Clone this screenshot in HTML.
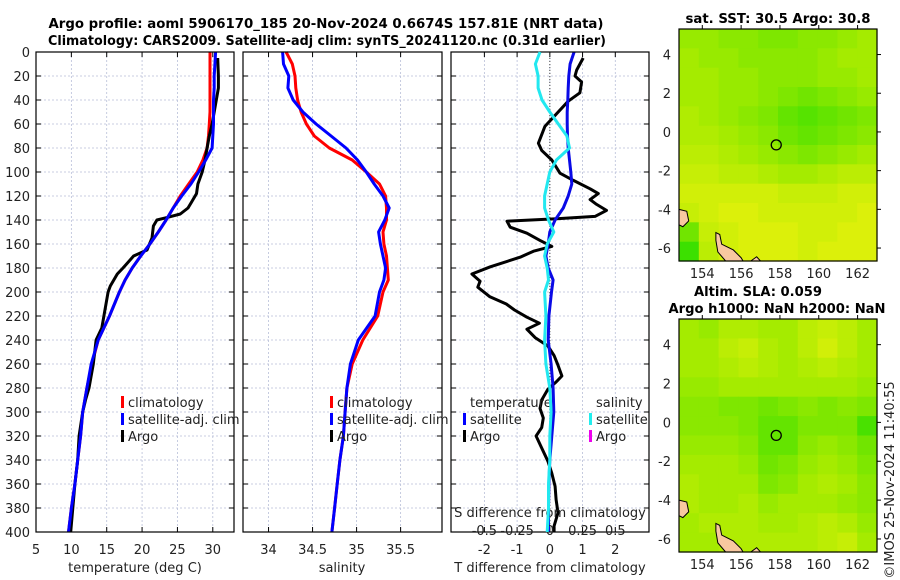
<!DOCTYPE html>
<html><head><meta charset="utf-8"><style>
html,body{margin:0;padding:0;background:#fff;}
svg{display:block;font-family:"DejaVu Sans","Liberation Sans",sans-serif;}
</style></head><body>
<svg id="c" width="900" height="580" viewBox="0 0 900 580" xmlns="http://www.w3.org/2000/svg">
<rect width="900" height="580" fill="#fff"/>
<g font-weight="bold" font-size="13" text-anchor="middle" fill="#000">
<text x="326" y="28" textLength="555" lengthAdjust="spacingAndGlyphs">Argo profile: aoml 5906170_185 20-Nov-2024 0.6674S 157.81E (NRT data)</text>
<text x="327" y="45" textLength="558" lengthAdjust="spacingAndGlyphs">Climatology: CARS2009. Satellite-adj clim: synTS_20241120.nc (0.31d earlier)</text>
<text x="778" y="23" textLength="185" lengthAdjust="spacingAndGlyphs">sat. SST: 30.5 Argo: 30.8</text>
<text x="758" y="296" textLength="128" lengthAdjust="spacingAndGlyphs">Altim. SLA: 0.059</text>
<text x="777" y="313" textLength="217" lengthAdjust="spacingAndGlyphs">Argo h1000: NaN h2000: NaN</text>
</g>
<text transform="translate(894,480) rotate(-90)" text-anchor="middle" font-size="13" fill="#222">©IMOS 25-Nov-2024 11:40:55</text>
<g id="plots"></g>
</svg>
<script>
// ---- data ----
const depthT = [0,10,20,30,40,50,60,70,80,90,100,110,120,130,140,150,160,170,180,190,200,220,240,260,280,300,320,340,360,380,400];
const tempClim = [29.6,29.6,29.6,29.6,29.6,29.6,29.5,29.4,29.2,28.6,27.8,26.6,25.4,24.4,23.4,22.3,21.1,19.8,18.6,17.6,16.8,15.4,13.8,12.9,12.2,11.6,11.3,10.9,10.5,10.0,9.6];
const tempSat = [30.4,30.3,30.2,30.2,30.1,30.1,30.1,30.0,29.9,29.0,28.0,26.9,25.6,24.4,23.4,22.3,21.1,19.8,18.6,17.6,16.8,15.4,13.8,12.8,12.2,11.6,11.3,10.9,10.5,10.0,9.6];
const argoDepth = [5,20,30,40,50,60,70,80,90,100,110,118,125,130,135,138,140,145,155,165,170,180,185,195,200,220,230,240,260,280,290,300,320,340,360,380,400];
const argoTemp = [30.7,30.8,30.8,30.5,30.2,29.9,29.5,29.2,28.9,28.5,27.9,27.7,27.0,26.5,25.4,23.5,22.1,21.6,21.4,20.7,18.8,17.3,16.5,15.5,15.2,14.6,14.3,13.5,13.1,12.5,12.0,11.6,11.1,10.9,10.5,10.2,9.9];
const depthS = [0,10,20,30,40,50,60,70,80,90,100,110,120,130,140,150,160,170,180,190,200,220,240,260,280,300,320,340,360,380,400];
const salClim = [34.20,34.27,34.30,34.31,34.33,34.37,34.43,34.52,34.69,34.95,35.11,35.26,35.33,35.34,35.34,35.30,35.31,35.34,35.35,35.36,35.30,35.24,35.07,34.95,34.89,34.87,34.85,34.81,34.78,34.75,34.72];
const salSat = [34.16,34.17,34.23,34.22,34.28,34.39,34.54,34.71,34.88,35.01,35.11,35.20,35.30,35.37,35.32,35.25,35.27,35.30,35.33,35.31,35.26,35.21,35.02,34.93,34.89,34.87,34.85,34.81,34.78,34.75,34.72];
const dTsat = [0.74,0.62,0.58,0.56,0.55,0.53,0.53,0.54,0.56,0.60,0.64,0.67,0.56,0.41,0.16,0.0,-0.05,-0.12,-0.05,0.10,0.05,-0.03,-0.05,0.04,0.10,0.12,0.06,0.0,-0.03,-0.04,-0.04];
const dSsat = [-0.075,-0.11,-0.09,-0.09,-0.06,0.0,0.065,0.13,0.15,0.05,0.0,-0.02,-0.04,-0.04,-0.01,0.03,-0.02,-0.04,-0.02,-0.01,-0.04,-0.03,-0.04,-0.03,0.0,0.01,0.0,0.0,-0.01,-0.01,-0.02];
const argoDDepth = [5,15,20,25,34,41,62,76,82,90,101,107,114,118,123,127,132,137,139,141,146,151,157,162,166,171,179,185,191,196,204,210,215,221,226,231,238,245,253,261,270,275,281,290,297,305,313,320,330,341,351,362,373,384,395,400];
const argoDT = [1.02,0.82,0.77,0.97,0.92,0.56,-0.15,-0.35,-0.25,0.06,0.31,0.72,1.23,1.48,1.23,1.43,1.73,1.38,0.21,-1.31,-1.21,-0.70,-0.30,0.06,-0.50,-0.91,-1.82,-2.38,-2.13,-2.2,-1.83,-1.33,-1.08,-0.70,-0.32,-0.70,-0.45,-0.06,0.13,0.25,0.37,0.19,-0.06,-0.25,-0.30,-0.20,-0.25,-0.42,-0.25,-0.06,0.06,0.16,0.19,0.25,0.13,0.13];
const depthTicks = [0,20,40,60,80,100,120,140,160,180,200,220,240,260,280,300,320,340,360,380,400];
const tempTicks = [5,10,15,20,25,30];
const salTicks = [34,34.5,35,35.5];
const salTickLabels = ["34","34.5","35","35.5"];
const dTTicks = [-2,-1,0,1,2];
const dSTicks = [-0.5,-0.25,0,0.25,0.5];
const dSTickLabels = ["-0.5","-0.25","0","0.25","0.5"];
const latTicks = [4,2,0,-2,-4,-6];
const lonTicks = [154,156,158,160,162];
const sstGrid = [
[.45,.45,.4,.4,.35,.35,.4,.4,.45,.5],
[.5,.45,.45,.4,.4,.4,.4,.45,.5,.5],
[.5,.5,.45,.45,.4,.4,.4,.45,.45,.5],
[.5,.5,.45,.45,.4,.35,.3,.35,.4,.45],
[.55,.5,.45,.4,.35,.25,.2,.25,.3,.35],
[.55,.55,.5,.45,.4,.3,.25,.3,.35,.4],
[.6,.6,.55,.5,.45,.4,.35,.4,.45,.5],
[.65,.65,.6,.6,.55,.5,.5,.55,.6,.6],
[.7,.7,.7,.7,.7,.65,.65,.65,.7,.7],
[.65,.7,.75,.75,.7,.7,.7,.7,.7,.75],
[.3,.65,.7,.75,.75,.75,.7,.7,.75,.75],
[.1,.6,.7,.75,.75,.75,.7,.75,.75,.75]];
const slaGrid = [
[.5,.45,.55,.55,.5,.5,.6,.65,.6,.5],
[.5,.5,.6,.65,.55,.5,.6,.7,.6,.5],
[.5,.5,.55,.6,.55,.5,.55,.6,.55,.5],
[.45,.45,.5,.5,.5,.5,.5,.5,.5,.45],
[.4,.4,.35,.35,.3,.35,.4,.35,.4,.35],
[.4,.4,.4,.35,.25,.25,.35,.35,.35,.15],
[.45,.45,.45,.4,.25,.25,.4,.45,.4,.3],
[.5,.5,.5,.45,.3,.35,.45,.5,.45,.35],
[.55,.5,.5,.5,.35,.4,.5,.55,.5,.4],
[.55,.5,.5,.55,.45,.5,.5,.5,.45,.4],
[.5,.55,.55,.55,.5,.5,.55,.6,.55,.45],
[.5,.5,.55,.55,.55,.55,.55,.6,.65,.5]];
const floatLon = 157.81, floatLat = -0.67;

// ---- helpers ----
const NS='http://www.w3.org/2000/svg';
const root=document.getElementById('plots');
function mk(tag,attrs,parent){const e=document.createElementNS(NS,tag);for(const k in attrs)e.setAttribute(k,attrs[k]);(parent||root).appendChild(e);return e;}
const PY0=52,PY1=532;
const yD=d=>PY0+(d/400)*(PY1-PY0);
function panel(x0,x1,vmin,vmax,name){
  const sx=v=>x0+(v-vmin)/(vmax-vmin)*(x1-x0);
  const g=mk('g',{});
  
  
  return {sx,g,x0,x1};
}
function grid(p,ticks,labels,showDepth){
  depthTicks.forEach(d=>{
    const l=mk('line',{x1:p.x0,x2:p.x1,y1:yD(d),y2:yD(d),stroke:'#b8bfd8','stroke-width':0.8,'stroke-dasharray':'2,2'},p.g);
    
    
    mk('line',{x1:p.x0,x2:p.x0+5,y1:yD(d),y2:yD(d),stroke:'#000'},p.g);
    mk('line',{x1:p.x1,x2:p.x1-5,y1:yD(d),y2:yD(d),stroke:'#000'},p.g);
    if(showDepth){const t=mk('text',{x:p.x0-6,y:yD(d)+5,'text-anchor':'end','font-size':13,fill:'#222'},p.g);t.textContent=d;
      
      }
  });
  ticks.forEach((v,i)=>{
    const x=p.sx(v);
    const l=mk('line',{x1:x,x2:x,y1:PY0,y2:PY1,stroke:'#b8bfd8','stroke-width':0.8,'stroke-dasharray':'2,2'},p.g);
    
    
    mk('line',{x1:x,x2:x,y1:PY1,y2:PY1-5,stroke:'#000'},p.g);
    mk('line',{x1:x,x2:x,y1:PY0,y2:PY0+5,stroke:'#000'},p.g);
    const t=mk('text',{x:x,y:554,'text-anchor':'middle','font-size':13,fill:'#222'},p.g);t.textContent=labels?labels[i]:v;
    
    
  });
}
function frame(p){const r=mk('rect',{x:p.x0,y:PY0,width:p.x1-p.x0,height:PY1-PY0,fill:'none',stroke:'#000','stroke-width':1.2},p.g);
  
  }
function line(p,xs,ds,color,name,w){
  const pts=xs.map((v,i)=>p.sx(v).toFixed(1)+','+yD(ds[i]).toFixed(1)).join(' ');
  const l=mk('polyline',{points:pts,fill:'none',stroke:color,'stroke-width':w||3,'stroke-linejoin':'round'},p.g);
  
  
}
function txt(p,x,y,s,name,opts){const t=mk('text',Object.assign({x:x,y:y,'font-size':13,fill:'#222'},opts||{}),p.g);t.textContent=s;
  
  return t;}
function legend(p,x,y,items){
  items.forEach((it,i)=>{
    const yy=y+i*17;
    const b=mk('rect',{x:x,y:yy-11,width:3,height:12,fill:it[1]},p.g);
    
    
    txt(p,x+7,yy,it[0],'legend-entry');
  });
}

// ---- panel 1: temperature ----
const p1=panel(36,234,5,33,'temperature-panel');
grid(p1,tempTicks,null,true);
line(p1,tempClim,depthT,'#ff0000','climatology-temp-line');
line(p1,argoTemp,argoDepth,'#000000','argo-temp-line');
line(p1,tempSat,depthT,'#0000ff','satellite-temp-line');
frame(p1);
legend(p1,121,407,[['climatology','#f00'],['satellite-adj. clim','#00f'],['Argo','#000']]);
txt(p1,135,572,'temperature (deg C)','x-axis-title-temperature',{'text-anchor':'middle'});

// ---- panel 2: salinity ----
const p2=panel(243,442,33.71,35.97,'salinity-panel');
grid(p2,salTicks,salTickLabels,false);
line(p2,salClim,depthS,'#ff0000','climatology-sal-line');
line(p2,salSat,depthS,'#0000ff','satellite-sal-line');
frame(p2);
legend(p2,330,407,[['climatology','#f00'],['satellite-adj. clim','#00f'],['Argo','#000']]);
txt(p2,342,572,'salinity','x-axis-title-salinity',{'text-anchor':'middle'});

// ---- panel 3: differences ----
const p3=panel(451,649,-3.02,3.03,'difference-panel');
const p3s=panel(451,649,-0.755,0.7575,'sdiff-axis');
grid(p3,dTTicks,null,false);
const zl=mk('line',{x1:p3.sx(0),x2:p3.sx(0),y1:PY0,y2:PY1,stroke:'#444','stroke-width':1,'stroke-dasharray':'1,2'},p3.g);


line(p3,argoDT,argoDDepth,'#000000','argo-tdiff-line');
line(p3s,dSsat,depthT,'#22e8f0','satellite-sdiff-line');
line(p3,dTsat,depthT,'#0a0ae6','satellite-tdiff-line');
frame(p3);
txt(p3,470,407,'temperature','legend-title-temperature');
legend(p3,463,424,[['satellite','#00f'],['Argo','#000']]);
txt(p3,596,407,'salinity','legend-title-salinity');
legend(p3,589,424,[['satellite','#2ee'],['Argo','#e0e']]);
txt(p3,550,517,'S difference from climatology','sdiff-axis-title',{'text-anchor':'middle'});
dSTicks.forEach((v,i)=>txt(p3,p3s.sx(v),535,dSTickLabels[i],'sdiff-tick-label',{'text-anchor':'middle'}));
txt(p3,550,572,'T difference from climatology','x-axis-title-tdiff',{'text-anchor':'middle'});

// ---- maps ----
function col(v){
  const a=[34,221,0],b=[165,235,0],c=[220,240,10];
  let r;
  if(v<0.5){const t=v/0.5;r=a.map((x,i)=>x+(b[i]-x)*t);}else{const t=Math.min(1,(v-0.5)/0.25);r=b.map((x,i)=>x+(c[i]-x)*t);}
  return 'rgb('+r.map(Math.round).join(',')+')';
}
function map(y0,y1,gridVals,name){
  const x0=679,x1=877,lonMin=152.8,lonMax=163,latMax=5.32,latMin=-6.67;
  const sx=lo=>x0+(lo-lonMin)/(lonMax-lonMin)*(x1-x0);
  const sy=la=>y0+(latMax-la)/(latMax-latMin)*(y1-y0);
  const g=mk('g',{});
  
  
  const rows=gridVals.length,cols=gridVals[0].length;
  const cw=(x1-x0)/cols,ch=(y1-y0)/rows;
  gridVals.forEach((row,r)=>row.forEach((v,c)=>{
    const cell=mk('rect',{x:(x0+c*cw).toFixed(1),y:(y0+r*ch).toFixed(1),width:(cw+0.6).toFixed(1),height:(ch+0.6).toFixed(1),fill:col(v)},g);
    
    
  }));
  const land1=mk('path',{d:`M${x0},${sy(-4)} L${sx(153.2)},${sy(-4.1)} L${sx(153.3)},${sy(-4.6)} L${sx(153)},${sy(-4.9)} L${x0},${sy(-4.8)} Z`,fill:'#f8c8a0',stroke:'#000','stroke-width':1},g);
  
  
  const land2=mk('path',{d:`M${sx(154.7)},${sy(-5.2)} L${sx(154.9)},${sy(-5.3)} L${sx(155)},${sy(-5.8)} L${sx(155.6)},${sy(-6.1)} L${sx(156)},${sy(-6.5)} L${sx(156.1)},${y1} L${sx(155.2)},${y1} L${sx(154.8)},${sy(-6.2)} L${sx(154.7)},${sy(-5.6)} Z`,fill:'#f8c8a0',stroke:'#000','stroke-width':1},g);
  
  
  const land3=mk('path',{d:`M${sx(156.5)},${y1} L${sx(156.8)},${sy(-6.45)} L${sx(157)},${y1} Z`,fill:'#f8c8a0',stroke:'#000','stroke-width':1},g);
  
  
  const fc=mk('circle',{cx:sx(floatLon),cy:sy(floatLat),r:5,fill:'none',stroke:'#000','stroke-width':1.3},g);
  
  
  const fr=mk('rect',{x:x0,y:y0,width:x1-x0,height:y1-y0,fill:'none',stroke:'#000','stroke-width':1.2},g);
  
  
  latTicks.forEach(la=>{
    mk('line',{x1:x1,x2:x1+4,y1:sy(la),y2:sy(la),stroke:'#000'},g);
    const t=mk('text',{x:x0-8,y:sy(la)+5,'text-anchor':'end','font-size':13,fill:'#222'},g);t.textContent=la;
    
    
  });
  lonTicks.forEach(lo=>{
    mk('line',{x1:sx(lo),x2:sx(lo),y1:y0,y2:y0-4,stroke:'#000'},g);
    const t=mk('text',{x:sx(lo),y:y1+17,'text-anchor':'middle','font-size':13,fill:'#222'},g);t.textContent=lo;
    
    
  });
}
map(29,261,sstGrid,'sst-map');
map(319,552,slaGrid,'sla-map');
</script>
</body></html>
